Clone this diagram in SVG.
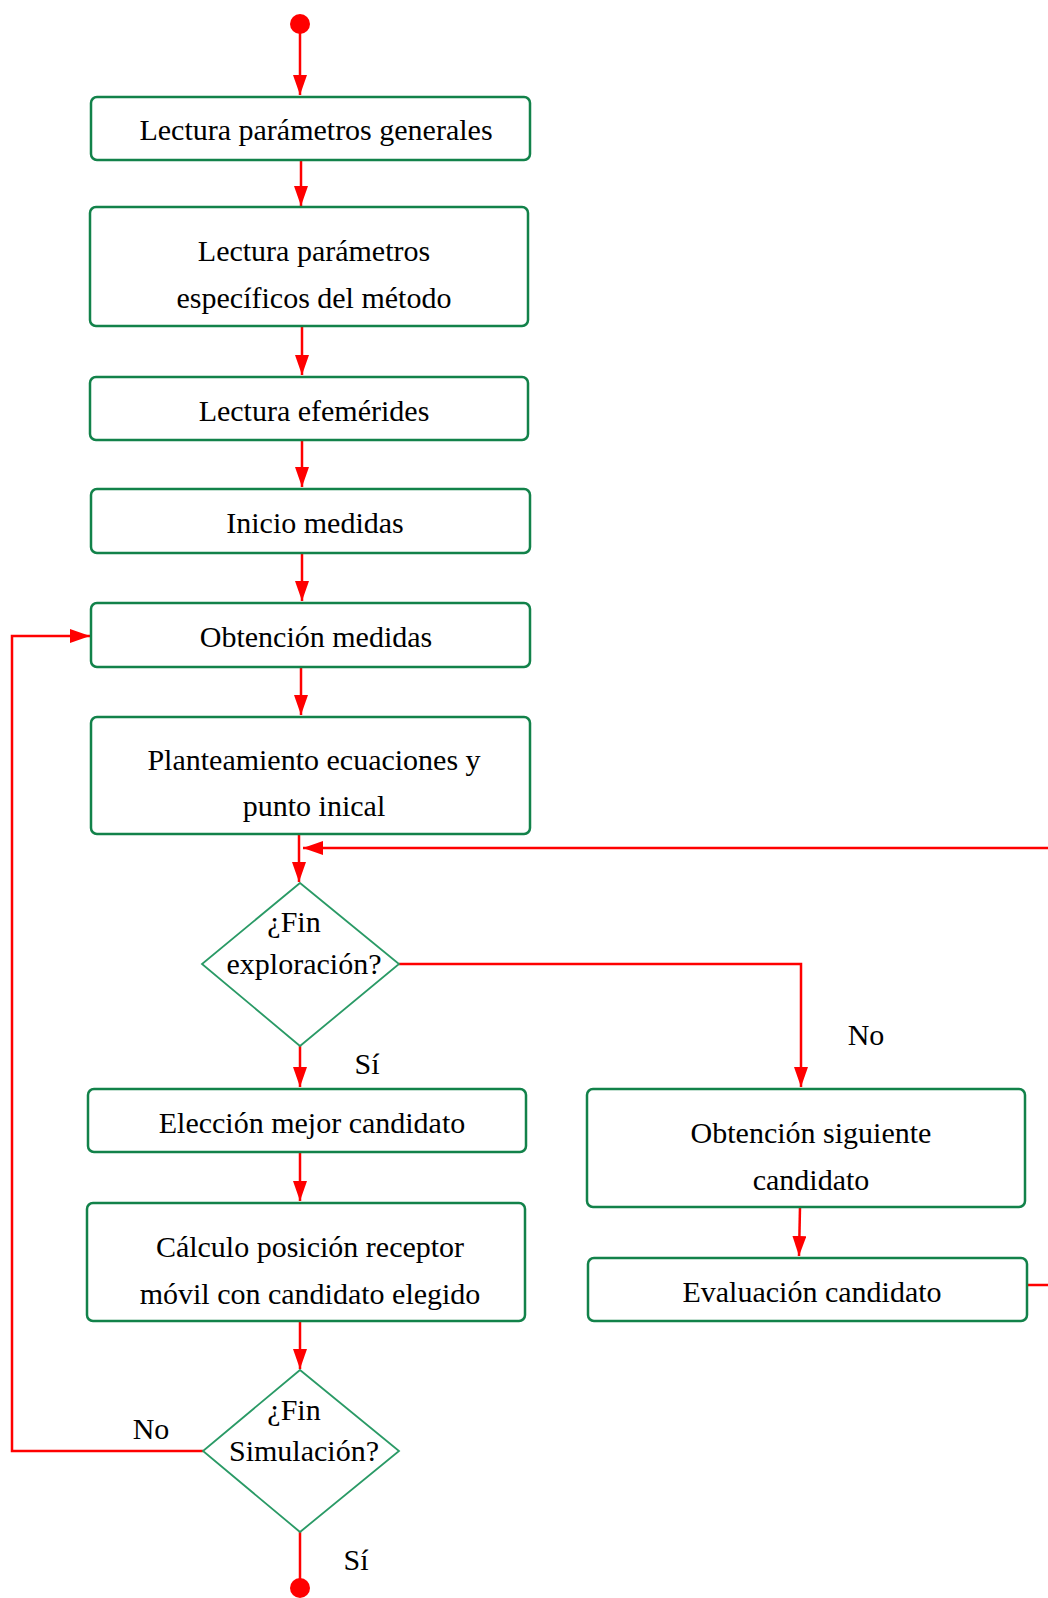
<svg xmlns="http://www.w3.org/2000/svg" width="1048" height="1598" viewBox="0 0 1048 1598">
  <style>
    .box { fill: #ffffff; stroke: #12824a; stroke-width: 2.5; }
    .dia { fill: #ffffff; stroke: #2a9a66; stroke-width: 1.8; }
    .lbl { font-family: "Liberation Serif", "Times New Roman", serif; font-size: 30px; fill: #000000; text-anchor: middle; }
    .edge { fill: none; stroke: #ff0000; stroke-width: 2.5; }
    .term { fill: #ff0000; }
  </style>
  <defs>
    <marker id="arrow" markerUnits="userSpaceOnUse" markerWidth="21" markerHeight="15" refX="20" refY="7" orient="auto">
      <path d="M0,0 L20,7 L0,14 z" fill="#ff0000"/>
    </marker>
  </defs>

  <rect width="1048" height="1598" fill="#ffffff"/>

  <!-- connectors -->
  <g id="connectors">
    <path class="edge" d="M300,24 L300,95" marker-end="url(#arrow)"/>
    <path class="edge" d="M301,160 L301,206" marker-end="url(#arrow)"/>
    <path class="edge" d="M302,326 L302,375" marker-end="url(#arrow)"/>
    <path class="edge" d="M302,440 L302,487" marker-end="url(#arrow)"/>
    <path class="edge" d="M302,553 L302,601" marker-end="url(#arrow)"/>
    <path class="edge" d="M301,667 L301,715" marker-end="url(#arrow)"/>
    <path class="edge" d="M299,834 L299,882" marker-end="url(#arrow)"/>
    <!-- return loop from candidate evaluation -->
    <path class="edge" d="M1027,1285 L1075,1285 L1075,848 L303,848" marker-end="url(#arrow)"/>
    <!-- No branch of exploration test -->
    <path class="edge" d="M399,964 L801,964 L801,1087" marker-end="url(#arrow)"/>
    <!-- Yes branch of exploration test -->
    <path class="edge" d="M300,1046 L300,1087" marker-end="url(#arrow)"/>
    <path class="edge" d="M300,1152 L300,1201" marker-end="url(#arrow)"/>
    <path class="edge" d="M300,1321 L300,1369" marker-end="url(#arrow)"/>
    <path class="edge" d="M800,1207 L799,1256" marker-end="url(#arrow)"/>
    <!-- No branch of simulation test: back to measurements -->
    <path class="edge" d="M203,1451 L12,1451 L12,636 L90,636" marker-end="url(#arrow)"/>
    <!-- Yes branch of simulation test: end -->
    <path class="edge" d="M300,1532 L300,1588"/>
    <text class="lbl" x="866" y="1045">No</text>
    <text class="lbl" x="367" y="1074">Sí</text>
    <text class="lbl" x="151" y="1439">No</text>
    <text class="lbl" x="356" y="1570">Sí</text>
  </g>

  <g id="start"><circle class="term" cx="300" cy="24" r="10"/></g>
  <g id="end"><circle class="term" cx="300" cy="1588" r="10"/></g>

  <g id="n1">
    <rect class="box" x="91" y="97" width="439" height="63" rx="6"/>
    <text class="lbl" x="316" y="140">Lectura parámetros generales</text>
  </g>
  <g id="n2">
    <rect class="box" x="90" y="207" width="438" height="119" rx="6"/>
    <text class="lbl" x="314" y="261">Lectura parámetros</text>
    <text class="lbl" x="314" y="308">específicos del método</text>
  </g>
  <g id="n3">
    <rect class="box" x="90" y="377" width="438" height="63" rx="6"/>
    <text class="lbl" x="314" y="421">Lectura efemérides</text>
  </g>
  <g id="n4">
    <rect class="box" x="91" y="489" width="439" height="64" rx="6"/>
    <text class="lbl" x="315" y="533">Inicio medidas</text>
  </g>
  <g id="n5">
    <rect class="box" x="91" y="603" width="439" height="64" rx="6"/>
    <text class="lbl" x="316" y="647">Obtención medidas</text>
  </g>
  <g id="n6">
    <rect class="box" x="91" y="717" width="439" height="117" rx="6"/>
    <text class="lbl" x="314" y="770">Planteamiento ecuaciones y</text>
    <text class="lbl" x="314" y="816">punto inical</text>
  </g>
  <g id="d1">
    <polygon class="dia" points="300,883 399,964 300,1046 202,964"/>
    <text class="lbl" x="294" y="932">¿Fin</text>
    <text class="lbl" x="304" y="974">exploración?</text>
  </g>
  <g id="n7">
    <rect class="box" x="88" y="1089" width="438" height="63" rx="6"/>
    <text class="lbl" x="312" y="1133">Elección mejor candidato</text>
  </g>
  <g id="n8">
    <rect class="box" x="87" y="1203" width="438" height="118" rx="6"/>
    <text class="lbl" x="310" y="1257">Cálculo posición receptor</text>
    <text class="lbl" x="310" y="1304">móvil con candidato elegido</text>
  </g>
  <g id="d2">
    <polygon class="dia" points="300,1370 399,1451 300,1532 203,1451"/>
    <text class="lbl" x="294" y="1420">¿Fin</text>
    <text class="lbl" x="304" y="1461">Simulación?</text>
  </g>
  <g id="n9">
    <rect class="box" x="587" y="1089" width="438" height="118" rx="6"/>
    <text class="lbl" x="811" y="1143">Obtención siguiente</text>
    <text class="lbl" x="811" y="1190">candidato</text>
  </g>
  <g id="n10">
    <rect class="box" x="588" y="1258" width="439" height="63" rx="6"/>
    <text class="lbl" x="812" y="1302">Evaluación candidato</text>
  </g>
</svg>
